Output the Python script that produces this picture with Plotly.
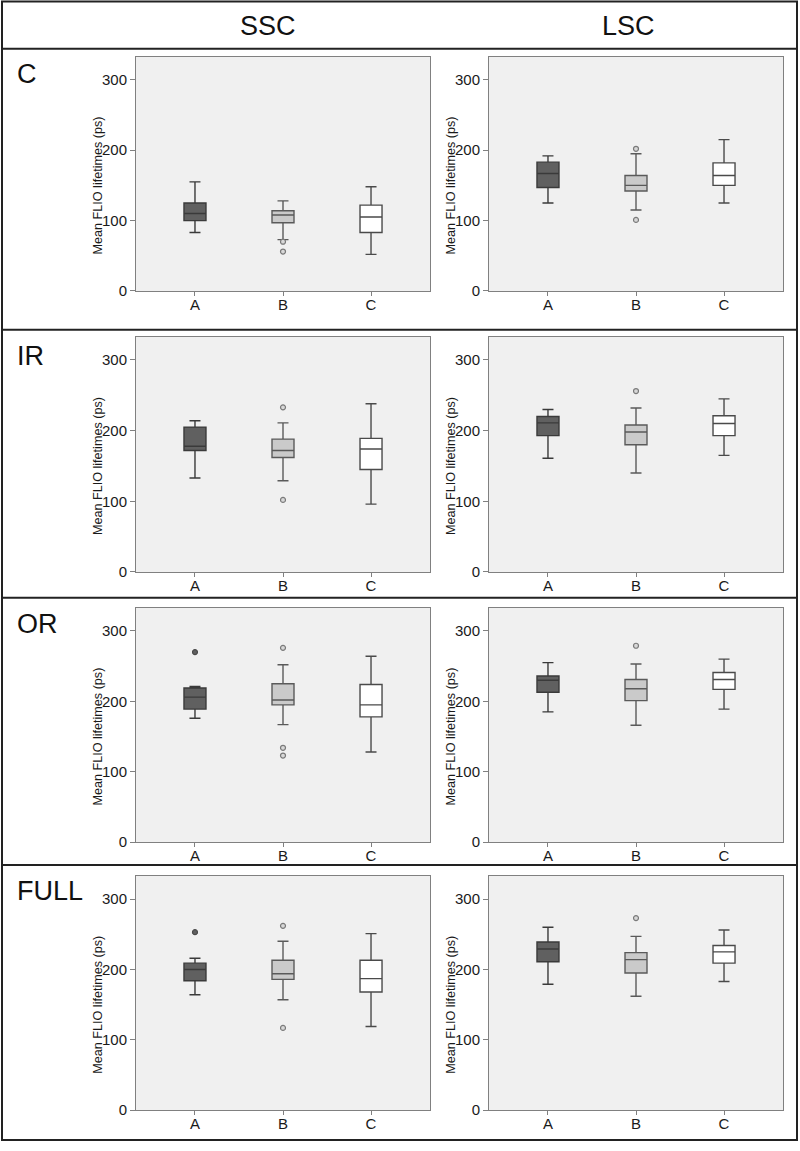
import plotly.graph_objects as go

W, H = 800, 1151

groups = ["A", "B", "C"]
columns = ["SSC", "LSC"]
rows = ["C", "IR", "OR", "FULL"]
y_ticks = [0, 100, 200, 300]
y_title = "Mean FLIO lifetimes (ps)"

# five-number summaries per group (A, B, C)
ssc_c_lower = [83, 73, 52]
ssc_c_q1 = [100, 97, 83]
ssc_c_med = [110, 108, 105]
ssc_c_q3 = [125, 114, 122]
ssc_c_upper = [155, 128, 148]
ssc_c_out = {"B": [70, 56]}

lsc_c_lower = [125, 115, 125]
lsc_c_q1 = [147, 142, 150]
lsc_c_med = [167, 150, 164]
lsc_c_q3 = [183, 164, 182]
lsc_c_upper = [192, 195, 215]
lsc_c_out = {"B": [202, 101]}

ssc_ir_lower = [133, 129, 96]
ssc_ir_q1 = [172, 162, 145]
ssc_ir_med = [178, 172, 174]
ssc_ir_q3 = [205, 188, 189]
ssc_ir_upper = [214, 211, 238]
ssc_ir_out = {"B": [233, 102]}

lsc_ir_lower = [161, 140, 165]
lsc_ir_q1 = [193, 180, 193]
lsc_ir_med = [211, 198, 210]
lsc_ir_q3 = [220, 208, 221]
lsc_ir_upper = [230, 232, 245]
lsc_ir_out = {"B": [256]}

ssc_or_lower = [176, 167, 128]
ssc_or_q1 = [189, 195, 178]
ssc_or_med = [206, 202, 195]
ssc_or_q3 = [219, 225, 224]
ssc_or_upper = [221, 252, 264]
ssc_or_out = {"A": [270], "B": [276, 134, 123]}

lsc_or_lower = [185, 166, 189]
lsc_or_q1 = [213, 201, 217]
lsc_or_med = [230, 218, 231]
lsc_or_q3 = [236, 231, 241]
lsc_or_upper = [255, 253, 260]
lsc_or_out = {"B": [279]}

ssc_full_lower = [164, 157, 119]
ssc_full_q1 = [184, 186, 168]
ssc_full_med = [200, 194, 187]
ssc_full_q3 = [209, 213, 213]
ssc_full_upper = [216, 240, 251]
ssc_full_out = {"A": [253], "B": [262, 117]}

lsc_full_lower = [179, 162, 183]
lsc_full_q1 = [211, 195, 209]
lsc_full_med = [229, 214, 225]
lsc_full_q3 = [239, 224, 234]
lsc_full_upper = [260, 247, 256]
lsc_full_out = {"B": [273]}

panels = [
    [(ssc_c_lower, ssc_c_q1, ssc_c_med, ssc_c_q3, ssc_c_upper, ssc_c_out),
     (lsc_c_lower, lsc_c_q1, lsc_c_med, lsc_c_q3, lsc_c_upper, lsc_c_out)],
    [(ssc_ir_lower, ssc_ir_q1, ssc_ir_med, ssc_ir_q3, ssc_ir_upper, ssc_ir_out),
     (lsc_ir_lower, lsc_ir_q1, lsc_ir_med, lsc_ir_q3, lsc_ir_upper, lsc_ir_out)],
    [(ssc_or_lower, ssc_or_q1, ssc_or_med, ssc_or_q3, ssc_or_upper, ssc_or_out),
     (lsc_or_lower, lsc_or_q1, lsc_or_med, lsc_or_q3, lsc_or_upper, lsc_or_out)],
    [(ssc_full_lower, ssc_full_q1, ssc_full_med, ssc_full_q3, ssc_full_upper, ssc_full_out),
     (lsc_full_lower, lsc_full_q1, lsc_full_med, lsc_full_q3, lsc_full_upper, lsc_full_out)],
]

fills = {"A": "#606060", "B": "#cacaca", "C": "#ffffff"}
lines = {"A": "#3a3a3a", "B": "#5a5a5a", "C": "#4a4a4a"}
out_line = {"A": "#4a4a4a", "B": "#7a7a7a", "C": "#7a7a7a"}

# layout geometry in pixels
col_x = [(136, 430), (489, 783)]
row_y = [(57, 293), (339, 576), (612, 848), (882, 1118)]
row_div = [49, 332, 602, 871]

def px_x(p):
    return p / W

def px_y(p):
    return 1 - p / H

FONT = "Liberation Sans, Arial, sans-serif"

fig = go.Figure()
layout = dict(
    width=W, height=H,
    margin=dict(l=0, r=0, t=0, b=0),
    paper_bgcolor="white",
    plot_bgcolor="#f0f0f0",
    showlegend=False,
    font=dict(family=FONT, color="#1a1a1a"),
)
annotations = []
shapes = []

k = 0
for r, rowname in enumerate(rows):
    for c in range(2):
        k += 1
        xa = "x" if k == 1 else f"x{k}"
        ya = "y" if k == 1 else f"y{k}"
        lower, q1, med, q3, upper, outl = panels[r][c]
        for i, g in enumerate(groups):
            fig.add_trace(go.Box(
                x=[g], q1=[q1[i]], median=[med[i]], q3=[q3[i]],
                lowerfence=[lower[i]], upperfence=[upper[i]],
                fillcolor=fills[g], line=dict(color=lines[g], width=1.4),
                width=0.25, whiskerwidth=0.5, boxpoints=False,
                xaxis=xa, yaxis=ya, showlegend=False, hoverinfo="y",
            ))
        for g, vals in outl.items():
            fig.add_trace(go.Scatter(
                x=[g] * len(vals), y=vals, mode="markers",
                marker=dict(symbol="circle", size=5, color=fills[g] if g != "B" else "#d8d8d8",
                            line=dict(color=out_line[g], width=1.2)),
                xaxis=xa, yaxis=ya, showlegend=False,
            ))
        x0, x1 = col_x[c]
        y0, y1 = row_y[r]
        xkey = "xaxis" if k == 1 else f"xaxis{k}"
        ykey = "yaxis" if k == 1 else f"yaxis{k}"
        layout[xkey] = dict(
            domain=[px_x(x0), px_x(x1)], anchor=ya,
            type="category", categoryorder="array", categoryarray=groups,
            range=[-0.67, 2.67], showgrid=False, zeroline=False,
            showline=True, mirror=True, linecolor="#808080", linewidth=1,
            ticks="outside", ticklen=4, tickcolor="#808080",
            ticklabelstandoff=-4,
            tickfont=dict(size=15, family=FONT, color="#1a1a1a"),
            fixedrange=True,
        )
        layout[ykey] = dict(
            domain=[px_y(y1), px_y(y0)], anchor=xa,
            range=[0, 333], tickvals=y_ticks, showgrid=False, zeroline=False,
            showline=True, mirror=True, linecolor="#808080", linewidth=1,
            ticks="outside", ticklen=5, tickcolor="#808080",
            tickfont=dict(size=15, family=FONT, color="#1a1a1a"),
            fixedrange=True,
        )
        annotations.append(dict(
            text=y_title, textangle=-90, xref="paper", yref=ya,
            x=px_x(x0 - 38), y=150, showarrow=False,
            font=dict(size=12.6, family=FONT, color="#1a1a1a"),
            xanchor="center", yanchor="middle",
        ))

# column headers
for c, name in enumerate(columns):
    cx = [268, 628][c]
    annotations.append(dict(
        text=name, xref="paper", yref="paper", x=px_x(cx), y=px_y(26),
        showarrow=False, font=dict(size=27, family=FONT, color="#111"),
        xanchor="center", yanchor="middle",
    ))

# row labels
for r, name in enumerate(rows):
    annotations.append(dict(
        text=name, xref="paper", yref="paper", x=px_x(15), y=px_y(row_div[r] + 26),
        showarrow=False, font=dict(size=27, family=FONT, color="#111"),
        xanchor="left", yanchor="middle",
    ))

# table borders
shapes.append(dict(type="rect", xref="paper", yref="paper",
                   x0=px_x(2), x1=px_x(797), y0=px_y(1148), y1=px_y(1.5),
                   line=dict(color="#222", width=2)))
for yd in row_div:
    shapes.append(dict(type="line", xref="paper", yref="paper",
                       x0=px_x(2), x1=px_x(797), y0=px_y(yd), y1=px_y(yd),
                       line=dict(color="#222", width=2)))

layout["annotations"] = annotations
layout["shapes"] = shapes
fig.update_layout(**layout)

fig.write_html(
    "out.html",
    config={"displayModeBar": False, "responsive": False},
    post_script="document.body.style.margin='0';document.body.style.padding='0';document.body.style.overflow='hidden';",
)
